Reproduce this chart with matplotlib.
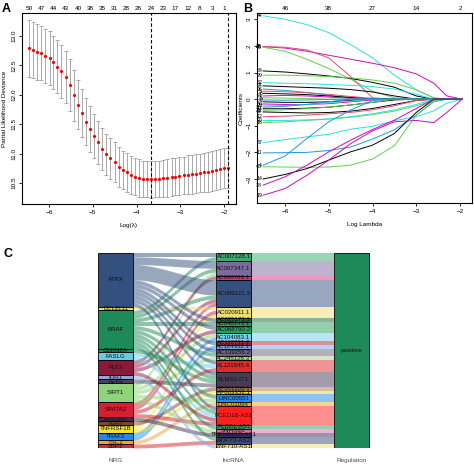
import numpy as np
import matplotlib
matplotlib.use("Agg")
import matplotlib.pyplot as plt
from matplotlib.patches import Rectangle

plt.rcParams['font.family'] = ['Liberation Sans', 'DejaVu Sans']

# ---------------- panel A : cv.glmnet curve
log_lambda = [-6.46, -6.37, -6.27, -6.18, -6.09, -5.99, -5.90, -5.81, -5.72, -5.62,
              -5.53, -5.44, -5.34, -5.25, -5.16, -5.06, -4.97, -4.88, -4.78, -4.69,
              -4.60, -4.50, -4.41, -4.32, -4.23, -4.13, -4.04, -3.95, -3.85, -3.76,
              -3.67, -3.57, -3.48, -3.39, -3.30, -3.20, -3.11, -3.02, -2.92, -2.83,
              -2.74, -2.64, -2.55, -2.46, -2.36, -2.27, -2.18, -2.09, -1.99, -1.90]
cv_mean = [12.79, 12.76, 12.73, 12.71, 12.66, 12.62, 12.55, 12.48, 12.40, 12.30,
           12.17, 11.99, 11.83, 11.69, 11.54, 11.42, 11.30, 11.19, 11.08, 10.99,
           10.92, 10.85, 10.78, 10.72, 10.68, 10.64, 10.61, 10.59, 10.57, 10.565,
           10.56, 10.565, 10.57, 10.58, 10.59, 10.60, 10.61, 10.62, 10.63, 10.64,
           10.65, 10.66, 10.67, 10.68, 10.69, 10.70, 10.72, 10.73, 10.75, 10.76]
cv_sd = [0.48, 0.47, 0.47, 0.46, 0.46, 0.46, 0.45, 0.45, 0.45, 0.44,
         0.44, 0.43, 0.42, 0.41, 0.40, 0.39, 0.38, 0.37, 0.36, 0.35,
         0.35, 0.34, 0.34, 0.33, 0.33, 0.32, 0.32, 0.32, 0.31, 0.31,
         0.31, 0.31, 0.31, 0.31, 0.32, 0.32, 0.32, 0.32, 0.32, 0.33,
         0.33, 0.33, 0.33, 0.33, 0.34, 0.34, 0.34, 0.34, 0.34, 0.34]
nzero_top = [50, 47, 44, 43, 40, 38, 35, 31, 28, 26, 24, 23, 17, 12, 8, 3, 1]
idx_min = 30
idx_1se = 49

# ---------------- panel B : coefficient paths
path_x = [-6.5, -6.0, -5.5, -5.0, -4.5, -4.0, -3.5, -3.0, -2.6, -2.3, -1.95]
path_labels = ["44", "45", "48", "35", "34", "29", "32", "24", "26", "5", "6", "21",
               "3", "9", "27", "1", "25", "30", "17", "22", "43", "12", "16", "20",
               "37", "11", "4", "40", "14", "38", "19"]
path_values = [
    [3.13, 3.0, 2.8, 2.5, 2.05, 1.55, 0.9, 0.35, 0.05, 0, 0],
    [1.97, 1.92, 1.8, 1.65, 1.5, 1.35, 1.18, 0.95, 0.6, 0.12, 0],
    [1.95, 1.8, 1.5, 1.15, 0.75, 0.3, 0.05, 0, 0, 0, 0],
    [1.98, 1.95, 1.85, 1.55, 0.85, 0.05, 0, 0, 0, 0, 0],
    [1.06, 1.02, 0.95, 0.87, 0.78, 0.63, 0.45, 0.12, 0, 0, 0],
    [0.9, 0.9, 0.88, 0.85, 0.8, 0.72, 0.6, 0.35, 0.05, 0, 0],
    [0.62, 0.6, 0.58, 0.55, 0.52, 0.47, 0.38, 0.18, 0, 0, 0],
    [0.5, 0.47, 0.44, 0.41, 0.36, 0.27, 0.12, 0, 0, 0, 0],
    [0.38, 0.33, 0.25, 0.15, 0.05, 0, 0, 0, 0, 0, 0],
    [0.3, 0.28, 0.24, 0.18, 0.1, 0.03, 0, 0, 0, 0, 0],
    [0.22, 0.2, 0.17, 0.12, 0.06, 0, 0, 0, 0, 0, 0],
    [0.12, 0.14, 0.12, 0.08, 0.03, 0, 0, 0, 0, 0, 0],
    [0.05, 0.04, 0.02, 0, 0, 0, 0, 0, 0, 0, 0],
    [-0.03, -0.04, -0.03, -0.01, 0, 0, 0, 0, 0, 0, 0],
    [-0.1, -0.12, -0.12, -0.1, -0.05, 0, 0, 0, 0, 0, 0],
    [-0.18, -0.2, -0.2, -0.17, -0.1, -0.03, 0, 0, 0, 0, 0],
    [-0.25, -0.24, -0.2, -0.14, -0.07, 0, 0, 0, 0, 0, 0],
    [-0.3, -0.27, -0.2, -0.1, 0, 0, 0, 0, 0, 0, 0],
    [-0.36, -0.36, -0.34, -0.3, -0.22, -0.12, -0.03, 0, 0, 0, 0],
    [-0.42, -0.4, -0.36, -0.3, -0.22, -0.12, 0, 0, 0, 0, 0],
    [-0.48, -0.5, -0.52, -0.5, -0.45, -0.35, -0.2, -0.05, 0, 0, 0],
    [-0.66, -0.64, -0.6, -0.55, -0.5, -0.4, -0.25, -0.05, 0, 0, 0],
    [-0.88, -0.85, -0.8, -0.75, -0.68, -0.58, -0.45, -0.25, -0.05, 0, 0],
    [-0.8, -0.8, -0.78, -0.74, -0.66, -0.55, -0.4, -0.2, 0, 0, 0],
    [-1.63, -1.52, -1.42, -1.32, -1.13, -1.02, -0.81, -0.66, -0.44, -0.15, 0],
    [-2.02, -2.01, -2.0, -1.93, -1.8, -1.5, -1.15, -0.6, -0.1, 0, 0],
    [-2.48, -2.14, -1.48, -0.85, -0.41, -0.05, 0, 0, 0, 0, 0],
    [-2.54, -2.55, -2.56, -2.55, -2.48, -2.25, -1.75, -0.6, -0.05, 0, 0],
    [-3.0, -2.83, -2.61, -2.29, -1.98, -1.73, -1.29, -0.5, 0, 0, 0],
    [-3.23, -2.92, -2.48, -1.98, -1.54, -1.14, -0.79, -0.35, 0, 0, 0],
    [-3.61, -3.36, -2.86, -2.29, -1.67, -1.19, -0.85, -0.8, -0.88, -0.5, 0],
]
df_ticks = [-6, -5, -4, -3, -2]
df_labels = [46, 38, 27, 14, 2]

# ---------------- panel C : alluvial NRG -> lncRNA -> regulation
nrg_genes = ["ATRX", "BCL2L11", "BRAF", "CDKN2A", "FASLG", "FLT3", "IDH1", "KLF9",
             "SIRT1", "SPATA2", "TARDBP", "TERT", "TNFRSF1B", "TRAF2", "TSC1", "ZBP1"]
lnc_names = ["AC007128.1", "AC007347.1", "AC008763.1", "AC009121.3", "AC020911.1",
             "AC025171.1", "AC046143.1", "AC068790.2", "AC104083.1", "AC112721.2",
             "AC124312.1", "AC139256.2", "AC245128.3", "AL121845.4", "ALMS1-IT1",
             "AP001266.1", "AP003352.1", "LINC00551", "LINC01094", "PCED1B-AS1",
             "PLBD1-AS1", "SNHG26", "TMEM161B-AS1", "WDFY3-AS2", "ZNF710-AS1"]
links = [
    ("ATRX", "AC007128.1", 1), ("BRAF", "AC007128.1", 1),
    ("ATRX", "AC007347.1", 2), ("BRAF", "AC007347.1", 1), ("SIRT1", "AC007347.1", 1),
    ("FLT3", "AC008763.1", 1),
    ("ATRX", "AC009121.3", 4), ("BRAF", "AC009121.3", 1), ("FLT3", "AC009121.3", 1),
    ("SPATA2", "AC009121.3", 1),
    ("BCL2L11", "AC020911.1", 1), ("SPATA2", "AC020911.1", 1), ("TNFRSF1B", "AC020911.1", 1),
    ("ATRX", "AC025171.1", 1),
    ("BRAF", "AC046143.1", 1),
    ("ATRX", "AC068790.2", 1), ("FLT3", "AC068790.2", 1),
    ("SIRT1", "AC104083.1", 1), ("TRAF2", "AC104083.1", 1),
    ("ATRX", "AC112721.2", 1),
    ("TRAF2", "AC124312.1", 1),
    ("ATRX", "AC139256.2", 1), ("BRAF", "AC139256.2", 1),
    ("SIRT1", "AC245128.3", 1),
    ("ATRX", "AL121845.4", 1), ("FASLG", "AL121845.4", 1), ("SPATA2", "AL121845.4", 1),
    ("ATRX", "ALMS1-IT1", 1), ("BRAF", "ALMS1-IT1", 1), ("CDKN2A", "ALMS1-IT1", 1),
    ("KLF9", "ALMS1-IT1", 1),
    ("TERT", "AP001266.1", 1),
    ("TNFRSF1B", "AP003352.1", 1),
    ("BRAF", "LINC00551", 1), ("SIRT1", "LINC00551", 1),
    ("TSC1", "LINC01094", 1),
    ("ATRX", "PCED1B-AS1", 1), ("BRAF", "PCED1B-AS1", 1), ("FASLG", "PCED1B-AS1", 1),
    ("FLT3", "PCED1B-AS1", 1), ("SPATA2", "PCED1B-AS1", 1),
    ("BRAF", "PLBD1-AS1", 1),
    ("SIRT1", "SNHG26", 1),
    ("TARDBP", "TMEM161B-AS1", 1),
    ("BRAF", "WDFY3-AS2", 1), ("ZBP1", "WDFY3-AS2", 1),
    ("IDH1", "ZNF710-AS1", 1),
]
regulation = "positive"

nrg_colors = ["#34507F", "#EEDD55", "#1E8A57", "#2A8C50", "#66CCE0", "#8B1A3A", "#88AADD",
              "#4A4060", "#8FD47A", "#D42030", "#4A2A4A", "#7A4A2A", "#F5E03A", "#2288EE",
              "#F5A030", "#D42A2A"]
lnc_colors = ["#3DAA6E", "#7B6A9C", "#D8337A", "#34507F", "#EEDD70", "#1B6B3A", "#2E9E5B",
              "#22A35C", "#72D0E8", "#B0243F", "#7BA7D9", "#6E5F7E", "#9FD98C", "#E0282E",
              "#4A3A58", "#A87E44", "#F2D02F", "#2088EE", "#F5A623", "#FF1F1F", "#2E9E5B",
              "#E065A0", "#3A2C55", "#3B4C7C", "#EFE07A"]
path_colors = {"K": "black", "R": "#DF536B", "G": "#61D04F", "B": "#2297E6",
               "C": "#28E2E5", "M": "#CD0BBC"}
path_col_codes = "CMGRKGCKBRKMGBKMCBKGKRGCCBBGKMM"

W, H = 474, 466
fig = plt.figure(figsize=(W / 100, H / 100), dpi=100)


def px_axes(l, t, r, b):
    return fig.add_axes([l / W, 1 - b / H, (r - l) / W, (b - t) / H])


def r_style(ax, fs=4.6):
    for s in ax.spines.values():
        s.set_linewidth(0.7)
    ax.tick_params(labelsize=fs, length=2.5, width=0.6, pad=1.5)
    for lab in ax.get_yticklabels():
        lab.set_rotation(90)
        lab.set_va('center')


# ---- A
axA = px_axes(22, 13, 236, 204)
axA.errorbar(log_lambda, cv_mean, yerr=cv_sd, fmt='none', ecolor='#A9A9A9',
             elinewidth=0.7, capsize=1.5, capthick=0.7)
axA.plot(log_lambda, cv_mean, 'o', color='red', ms=2.3, mec='none')
for i in (idx_min, idx_1se):
    axA.axvline(log_lambda[i], color='black', ls=(0, (3, 2)), lw=0.8)
axA.set_xlim(-6.62, -1.726)
axA.set_ylim(10.143, 13.391)
axA.set_xticks([-6, -5, -4, -3, -2])
axA.set_yticks([10.5, 11.0, 11.5, 12.0, 12.5, 13.0])
axA.set_yticklabels(["10.5", "11.0", "11.5", "12.0", "12.5", "13.0"])
axA.set_xlabel("Log(\u03bb)", fontsize=4.6, labelpad=6)
axA.set_ylabel("Partial Likelihood Deviance", fontsize=4.6, labelpad=3)
r_style(axA)
topA = axA.twiny()
topA.set_xlim(axA.get_xlim())
topA.set_xticks(log_lambda[::3])
topA.set_xticklabels([str(v) for v in nzero_top])
topA.tick_params(length=0, labelsize=4.6, pad=1.5)

# ---- B
axB = px_axes(257, 13, 472, 203)
for vals, lab, code in zip(path_values, path_labels, path_col_codes):
    axB.plot(path_x, vals, color=path_colors[code], lw=0.7)
    axB.text(path_x[0] - 0.02, vals[0], lab, ha='right', va='center', fontsize=3.8)
axB.set_xlim(-6.64, -1.726)
axB.set_ylim(-3.902, 3.237)
axB.set_xticks([-6, -5, -4, -3, -2])
axB.set_yticks([-3, -2, -1, 0, 1, 2, 3])
axB.set_xlabel("Log Lambda", fontsize=4.6, labelpad=6)
axB.set_ylabel("Coefficients", fontsize=4.6, labelpad=2)
r_style(axB)
topB = axB.twiny()
topB.set_xlim(axB.get_xlim())
topB.set_xticks(df_ticks)
topB.set_xticklabels([str(v) for v in df_labels])
topB.tick_params(length=0, labelsize=4.6, pad=1.5)

# ---- C
total = sum(n for _, _, n in links)
axC = px_axes(44.7, 253, 422.3, 448)
axC.set_xlim(0.4, 3.6)
axC.set_ylim(total, 0)
axC.axis('off')
hw = 0.15

nrg_idx = {g: i for i, g in enumerate(nrg_genes)}
lnc_idx = {g: i for i, g in enumerate(lnc_names)}
nrg_tot = [sum(n for g, _, n in links if g == gene) for gene in nrg_genes]
lnc_tot = [sum(n for _, l, n in links if l == name) for name in lnc_names]
nrg_start = np.concatenate([[0], np.cumsum(nrg_tot)[:-1]])
lnc_start = np.concatenate([[0], np.cumsum(lnc_tot)[:-1]])

left_pos = {}
cur = list(nrg_start)
for k in sorted(range(len(links)), key=lambda k: (nrg_idx[links[k][0]], lnc_idx[links[k][1]])):
    g = nrg_idx[links[k][0]]
    left_pos[k] = cur[g]
    cur[g] += links[k][2]
right_pos = {}
cur = list(lnc_start)
for k in sorted(range(len(links)), key=lambda k: (lnc_idx[links[k][1]], nrg_idx[links[k][0]])):
    l = lnc_idx[links[k][1]]
    right_pos[k] = cur[l]
    cur[l] += links[k][2]

x1, x2 = 1 + hw, 2 - hw
xx = np.linspace(x1, x2, 80)
t = (xx - x1) / (x2 - x1)
s = t * t * (3 - 2 * t)
for k, (g, l, n) in enumerate(links):
    y0, y1 = left_pos[k], right_pos[k]
    top = y0 + (y1 - y0) * s
    axC.fill_between(xx, top, top + n, color=nrg_colors[nrg_idx[g]], alpha=0.5, lw=0)

for i, name in enumerate(lnc_names):
    axC.add_patch(Rectangle((2 + hw, lnc_start[i]), 1 - 2 * hw, lnc_tot[i],
                            facecolor=lnc_colors[i], alpha=0.5, lw=0))

for i, gene in enumerate(nrg_genes):
    axC.add_patch(Rectangle((1 - hw, nrg_start[i]), 2 * hw, nrg_tot[i],
                            facecolor=nrg_colors[i], edgecolor='black', lw=0.6))
    axC.text(1, nrg_start[i] + nrg_tot[i] / 2, gene, ha='center', va='center',
             fontsize=4.4, color='#111111')
for i, name in enumerate(lnc_names):
    axC.add_patch(Rectangle((2 - hw, lnc_start[i]), 2 * hw, lnc_tot[i],
                            facecolor=lnc_colors[i], edgecolor='black', lw=0.6))
    axC.text(2, lnc_start[i] + lnc_tot[i] / 2, name, ha='center', va='center',
             fontsize=4.4, color='#111111')
axC.add_patch(Rectangle((3 - hw, 0), 2 * hw, total, facecolor='#1E8A57',
                        edgecolor='black', lw=0.6))
axC.text(3, total / 2, regulation, ha='center', va='center', fontsize=4.6, color='#111111')
for x, lab in zip([1, 2, 3], ["NRG", "lncRNA", "Regulation"]):
    axC.text(x, total + 3.3, lab, ha='center', va='center', fontsize=4.6,
             color='#4D4D4D', clip_on=False)

# panel letters
fig.text(2 / W, 1 - 3 / H, "A", fontsize=9, weight='bold', va='top', ha='left')
fig.text(243 / W, 1 - 3 / H, "B", fontsize=9, weight='bold', va='top', ha='left')
fig.text(4 / W, 1 - 248 / H, "C", fontsize=9, weight='bold', va='top', ha='left')

fig.savefig("out.png", dpi=100)
